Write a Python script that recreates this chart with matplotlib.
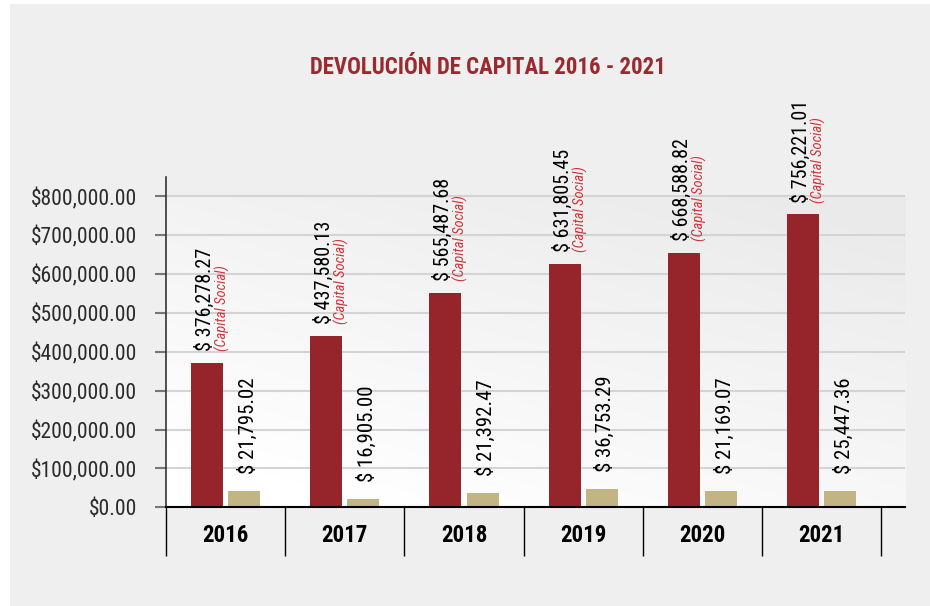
import numpy as np
import matplotlib.pyplot as plt
import matplotlib.patches as patches
from matplotlib.ticker import FuncFormatter

YEARS = ['2016', '2017', '2018', '2019', '2020', '2021']
# bar heights as drawn in the picture
CAPITAL = [372400, 442000, 552700, 627000, 655700, 753500]
OTROS = [42800, 22000, 37600, 47900, 42800, 42800]
CAPITAL_LABELS = ['$ 376,278.27', '$ 437,580.13', '$ 565,487.68',
                  '$ 631,805.45', '$ 668,588.82', '$ 756,221.01']
OTROS_LABELS = ['$ 21,795.02', '$ 16,905.00', '$ 21,392.47',
                '$ 36,753.29', '$ 21,169.07', '$ 25,447.36']
YTICKS = [0, 100000, 200000, 300000, 400000, 500000, 600000, 700000, 800000]

plt.rcParams['font.family'] = ['Roboto Condensed', 'Archivo Narrow', 'Liberation Sans', 'DejaVu Sans']

color_cap = '#95252b'
color_otr = '#c3b483'
color_title = '#9b2a2e'
color_note = '#d0343c'

fig = plt.figure(figsize=(9.3, 6.06), dpi=100, facecolor='white')
fig.patches.append(patches.Rectangle((10 / 930, 0), 920 / 930, 602 / 606,
                                     transform=fig.transFigure,
                                     facecolor='#efefef', edgecolor='none', zorder=-10))

ax = fig.add_axes([166 / 930, 1 - 507.3 / 606, 739 / 930, 330.3 / 606])
ax.set_facecolor('none')

x = np.arange(len(YEARS))
bar_w = 0.268
off = 0.156

# soft gradient inside the plot area
gx, gy = np.meshgrid(np.linspace(0, 1, 200), np.linspace(0, 1, 200))
t = np.clip(0.75 * gy + 0.5 * gx - 0.15, 0, 1)
base = np.array([1.0, 1.0, 1.0])
top = np.array([0.92, 0.92, 0.92])
img = base + (top - base) * t[..., None]
ax.imshow(img, origin='lower', extent=(-0.5, 5.7, 0, 800000),
          aspect='auto', zorder=0, interpolation='bilinear')

ax.bar(x - off, CAPITAL, bar_w, color=color_cap, zorder=3)
ax.bar(x + off, OTROS, bar_w, color=color_otr, zorder=3)

for i in range(len(YEARS)):
    ax.annotate(CAPITAL_LABELS[i], (x[i] - off, CAPITAL[i]), xytext=(-1.5, 8.5),
                textcoords='offset points', rotation=90, ha='center', va='bottom',
                fontsize=14.5, color='black', zorder=5, annotation_clip=False)
    ax.annotate('(Capital Social)', (x[i] - off, CAPITAL[i]), xytext=(11, 8.5),
                textcoords='offset points', rotation=90, ha='center', va='bottom',
                fontsize=10.5, style='italic', color=color_note, zorder=5,
                annotation_clip=False)
    ax.annotate(OTROS_LABELS[i], (x[i] + off, OTROS[i]), xytext=(2.5, 12),
                textcoords='offset points', rotation=90, ha='center', va='bottom',
                fontsize=15, color='black', zorder=5, annotation_clip=False)

ax.set_xlim(-0.5, 5.7)
ax.set_ylim(0, 850000)
ax.set_yticks(YTICKS)
ax.yaxis.set_major_formatter(FuncFormatter(lambda v, p: '${:,.2f}'.format(v)))
ax.set_xticks(x)
ax.set_xticklabels(YEARS, fontsize=16.5, fontweight='bold')
ax.set_xticks(np.arange(-0.5, 6, 1), minor=True)

ax.tick_params(axis='x', which='major', length=0, pad=12)
ax.tick_params(axis='x', which='minor', length=35, width=1, color='black')
ax.tick_params(axis='y', length=8, width=1.5, color='#777777', pad=13,
               labelsize=15.5, labelcolor='#2a2a2a')

ax.grid(axis='y', color='#d4d4d4', linewidth=1.5, zorder=1)
ax.set_axisbelow(True)

for s in ['top', 'right']:
    ax.spines[s].set_visible(False)
ax.spines['left'].set_color('#333333')
ax.spines['left'].set_linewidth(1.2)
ax.spines['bottom'].set_color('black')
ax.spines['bottom'].set_linewidth(1.5)
ax.spines['left'].set_zorder(4)
ax.spines['bottom'].set_zorder(4)

fig.text(488 / 930, 1 - 67 / 606, 'DEVOLUCIÓN DE CAPITAL 2016 - 2021',
         ha='center', va='center', fontsize=16.5, fontweight='bold', color=color_title)

fig.savefig('out.png', dpi=100, facecolor=fig.get_facecolor())
